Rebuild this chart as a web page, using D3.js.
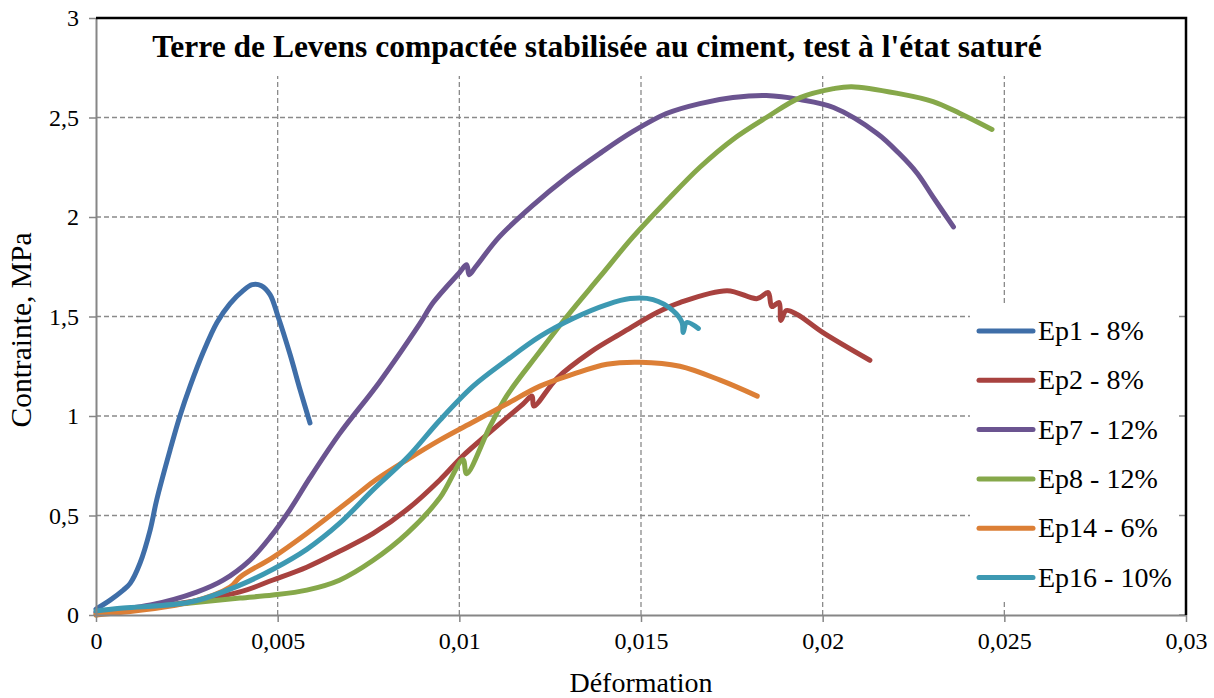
<!DOCTYPE html>
<html lang="fr">
<head>
<meta charset="UTF-8">
<title>Terre de Levens</title>
<script src="https://d3js.org/d3.v7.min.js"></script>
<style>
  body { margin: 0; background: #fff; }
  svg text { font-family: "Liberation Serif", "DejaVu Serif", serif; fill: #000; }
  .grid line { stroke: #8a8a8a; stroke-width: 1.3; stroke-dasharray: 5,3; }
  .curve { fill: none; stroke-width: 5; stroke-linecap: round; stroke-linejoin: round; }
</style>
</head>
<body>
<svg id="chart"></svg>
<script>
// ---- data ----
const xTicks = [0, 0.005, 0.01, 0.015, 0.02, 0.025, 0.03];
const yTicks = [0, 0.5, 1, 1.5, 2, 2.5, 3];
const seriesNames = ["Ep1 - 8%", "Ep2 - 8%", "Ep7 - 12%", "Ep8 - 12%", "Ep14 - 6%", "Ep16 - 10%"];
const seriesColors = ["#3f6ea8", "#a8423f", "#6b5490", "#86a84a", "#dc7f36", "#3d99b2"];

const ep1Strain = [0, 0.00039, 0.00075, 0.00094, 0.00121, 0.00149, 0.00167, 0.00204, 0.00231, 0.00259, 0.00295, 0.00333, 0.00369, 0.00405, 0.0043, 0.00455, 0.00479, 0.00501, 0.00534, 0.00562, 0.00589];
const ep1Stress = [0.03, 0.075, 0.125, 0.159, 0.26, 0.427, 0.578, 0.83, 1.0, 1.15, 1.32, 1.47, 1.565, 1.63, 1.66, 1.655, 1.61, 1.5, 1.31, 1.13, 0.965];

const ep2Strain = [0, 0.002, 0.00396, 0.00487, 0.0058, 0.0067, 0.00763, 0.00856, 0.00947, 0.0101, 0.01085, 0.01175, 0.012, 0.01205, 0.01269, 0.0136, 0.0145, 0.01544, 0.01607, 0.01737, 0.0182, 0.0185, 0.0186, 0.0188, 0.01885, 0.0190, 0.0193, 0.0200, 0.0213];
const ep2Stress = [0.01, 0.05, 0.116, 0.176, 0.24, 0.32, 0.41, 0.53, 0.68, 0.8, 0.92, 1.06, 1.1, 1.05, 1.19, 1.32, 1.42, 1.52, 1.57, 1.63, 1.59, 1.62, 1.55, 1.57, 1.48, 1.53, 1.51, 1.42, 1.28];

const ep7Strain = [0, 0.0015, 0.00277, 0.0035, 0.00424, 0.00479, 0.00534, 0.00589, 0.0067, 0.0078, 0.0089, 0.00928, 0.0100, 0.0102, 0.01027, 0.01045, 0.0111, 0.01203, 0.01296, 0.01387, 0.01478, 0.0157, 0.01662, 0.01753, 0.01845, 0.01938, 0.0203, 0.0215, 0.0221, 0.0226, 0.02304, 0.0236];
const ep7Stress = [0.015, 0.05, 0.115, 0.175, 0.276, 0.39, 0.53, 0.69, 0.91, 1.17, 1.46, 1.57, 1.72, 1.76, 1.71, 1.75, 1.9, 2.06, 2.2, 2.32, 2.43, 2.52, 2.57, 2.6, 2.61, 2.59, 2.55, 2.42, 2.32, 2.22, 2.1, 1.95];

const ep8Strain = [0, 0.0007, 0.0026, 0.00396, 0.00487, 0.0058, 0.0067, 0.00763, 0.00856, 0.00947, 0.0101, 0.0102, 0.01085, 0.0113, 0.0122, 0.01296, 0.01387, 0.01478, 0.0157, 0.01662, 0.01753, 0.01845, 0.01938, 0.0203, 0.0208, 0.0221, 0.02304, 0.02378, 0.02466];
const ep8Stress = [0.0, 0.025, 0.06, 0.085, 0.1, 0.125, 0.175, 0.275, 0.41, 0.59, 0.78, 0.71, 0.95, 1.1, 1.32, 1.5, 1.7, 1.9, 2.08, 2.25, 2.39, 2.5, 2.6, 2.645, 2.655, 2.62, 2.58, 2.52, 2.44];

const ep14Strain = [0, 0.0026, 0.00369, 0.00396, 0.00487, 0.0058, 0.00708, 0.00763, 0.00856, 0.00947, 0.01038, 0.0113, 0.01222, 0.01313, 0.01406, 0.01497, 0.01607, 0.01718, 0.0182];
const ep14Stress = [0.0, 0.065, 0.14, 0.19, 0.29, 0.41, 0.59, 0.67, 0.78, 0.88, 0.97, 1.06, 1.15, 1.21, 1.26, 1.27, 1.25, 1.18, 1.1];

const ep16Strain = [0, 0.00075, 0.0026, 0.00396, 0.00487, 0.0058, 0.0067, 0.00763, 0.00856, 0.00947, 0.01038, 0.0113, 0.01222, 0.01313, 0.01406, 0.0147, 0.01533, 0.01588, 0.01613, 0.01616, 0.01626, 0.01658];
const ep16Stress = [0.02, 0.035, 0.065, 0.15, 0.23, 0.33, 0.46, 0.63, 0.79, 0.98, 1.15, 1.28, 1.4, 1.49, 1.56, 1.59, 1.585, 1.53, 1.47, 1.42, 1.47, 1.44];

const strains = [ep1Strain, ep2Strain, ep7Strain, ep8Strain, ep14Strain, ep16Strain];
const stresses = [ep1Stress, ep2Stress, ep7Stress, ep8Stress, ep14Stress, ep16Stress];

const titleText = "Terre de Levens compactée stabilisée au ciment, test à l'état saturé";
const xLabel = "Déformation";
const yLabel = "Contrainte, MPa";

// ---- layout ----
const width = 1214, height = 698;
const margin = { left: 96, right: 28, top: 18, bottom: 83 };
const plotRight = width - margin.right;
const plotBottom = height - margin.bottom;

const svg = d3.select("#chart").attr("width", width).attr("height", height);

const x = d3.scaleLinear().domain([0, 0.03]).range([margin.left, plotRight]);
const y = d3.scaleLinear().domain([0, 3]).range([plotBottom, margin.top]);
const comma = v => d3.format("")(v).replace(".", ",");

// grid
const grid = svg.append("g").attr("class", "grid");
grid.selectAll(".h").data(yTicks.slice(1, -1)).enter().append("line")
    .attr("x1", margin.left).attr("x2", plotRight)
    .attr("y1", d => y(d)).attr("y2", d => y(d));
grid.selectAll(".v").data(xTicks.slice(1, -1)).enter().append("line")
    .attr("x1", d => x(d)).attr("x2", d => x(d))
    .attr("y1", margin.top).attr("y2", plotBottom);

// curves
const line = d3.line().x(d => x(d[0])).y(d => y(d[1])).curve(d3.curveCatmullRom.alpha(0.5));
svg.append("g").selectAll("path")
    .data(d3.range(seriesNames.length))
    .enter().append("path")
    .attr("class", "curve")
    .attr("stroke", i => seriesColors[i])
    .attr("d", i => line(d3.zip(strains[i], stresses[i])));

// title box (covers grid)
svg.append("rect").attr("x", margin.left + 1).attr("y", margin.top + 1)
    .attr("width", plotRight - margin.left - 2).attr("height", 57).attr("fill", "#fff");
svg.append("text").attr("x", 597).attr("y", 57).attr("text-anchor", "middle")
    .style("font-weight", "bold").style("font-size", "31.5px").text(titleText);

// legend
const legendX = 970, legendY = 305;
svg.append("rect").attr("x", legendX).attr("y", legendY)
    .attr("width", plotRight - legendX - 1).attr("height", 296).attr("fill", "#fff");
const leg = svg.append("g").selectAll("g").data(seriesNames).enter().append("g")
    .attr("transform", (d, i) => `translate(0,${331 + i * 49.3})`);
leg.append("line").attr("x1", 979).attr("x2", 1033).attr("y1", 0).attr("y2", 0)
    .attr("stroke", (d, i) => seriesColors[i]).attr("stroke-width", 5).attr("stroke-linecap", "round");
leg.append("text").attr("x", 1038).attr("y", 9).style("font-size", "28px").text(d => d);

// axes
const xAxis = svg.append("g").attr("transform", `translate(0,${plotBottom})`)
    .call(d3.axisBottom(x).tickValues(xTicks).tickFormat(comma).tickSizeInner(7).tickSizeOuter(0).tickPadding(10));
const yAxis = svg.append("g").attr("transform", `translate(${margin.left},0)`)
    .call(d3.axisLeft(y).tickValues(yTicks).tickFormat(comma).tickSizeInner(7).tickSizeOuter(0).tickPadding(10));
[xAxis, yAxis].forEach(a => {
  a.select(".domain").attr("stroke", "#868686").attr("stroke-width", 2);
  a.selectAll(".tick line").attr("stroke", "#868686").attr("stroke-width", 1.5);
  a.selectAll("text").style("font-size", "24px").attr("font-family", null);
});
// right-side inner ticks
svg.append("g").selectAll("line").data(yTicks).enter().append("line")
    .attr("x1", plotRight - 7).attr("x2", plotRight)
    .attr("y1", d => y(d)).attr("y2", d => y(d))
    .attr("stroke", "#868686").attr("stroke-width", 1.5);

// black frame on top and right
svg.append("path")
    .attr("d", `M${margin.left},${margin.top}H${plotRight}V${plotBottom}`)
    .attr("fill", "none").attr("stroke", "#000").attr("stroke-width", 2.5);

// axis titles
svg.append("text").attr("x", x(0.015)).attr("y", 692).attr("text-anchor", "middle")
    .style("font-size", "28px").text(xLabel);
svg.append("text").attr("transform", `translate(31,330) rotate(-90)`)
    .attr("text-anchor", "middle").style("font-size", "29.5px").text(yLabel);
</script>
</body>
</html>
